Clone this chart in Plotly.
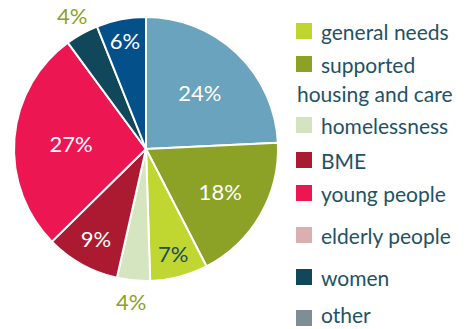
import math
import plotly.graph_objects as go

# Pie data (clockwise from 12 o'clock)
slice_names = ["s24", "s18", "s7", "s4a", "s9", "s27", "s4b", "s6"]
slice_values = [24, 18, 7, 4, 9, 27, 4, 6]
slice_colors = ["#69a3bd", "#8ba227", "#c0d631", "#d5e5bf", "#ab1a30", "#ec1752", "#11475a", "#03508b"]
slice_text_colors = ["white", "white", "#1a4a5c", "#8ba227", "white", "white", "#8ba227", "white"]
slice_outside = [False, False, False, True, False, False, True, False]

# Legend data
legend_labels = ["general needs", "supported<br>housing and care", "homelessness", "BME",
                 "young people", "elderly people", "women", "other"]
legend_colors = ["#bfd630", "#8ba226", "#d5e4c0", "#aa1a31", "#ec1651", "#d9afb1", "#11475a", "#7f8d96"]

W, H = 471, 329
legend_y_px = [31, 64, 125, 160, 193, 235, 277, 318]
text_color = "#1f5266"
FONT = "Lato"
PIE_FONT = 22

# pie box in pixels
px0, px1, py0, py1 = 14, 278, 17, 281
cx, cy = (px0 + px1) / 2, (py0 + py1) / 2
R = (px1 - px0) / 2

inside_text = ["" if o else f"{v}%" for v, o in zip(slice_values, slice_outside)]

fig = go.Figure()
fig.add_trace(go.Pie(
    labels=slice_names,
    values=slice_values,
    text=inside_text,
    textinfo="text",
    sort=False,
    direction="clockwise",
    rotation=0,
    marker=dict(colors=slice_colors, line=dict(color="white", width=2)),
    textposition="inside",
    insidetextorientation="horizontal",
    textfont=dict(family=FONT, size=PIE_FONT, color=slice_text_colors),
    showlegend=False,
    hoverinfo="none",
    domain=dict(x=[px0 / W, px1 / W], y=[1 - py1 / H, 1 - py0 / H]),
))

annotations = []
# outside labels placed at slice mid-angle
total = sum(slice_values)
cum = 0
for v, o, c in zip(slice_values, slice_outside, slice_text_colors):
    mid = (cum + v / 2) / total * 2 * math.pi
    cum += v
    if not o:
        continue
    rl = R * 1.16
    x = cx + rl * math.sin(mid)
    y = cy - rl * math.cos(mid)
    annotations.append(dict(text=f"{v}%", xref="paper", yref="paper",
                            x=x / W, y=1 - y / H, xanchor="center", yanchor="middle",
                            showarrow=False,
                            font=dict(family=FONT, size=PIE_FONT, color=c)))

shapes = []
sq = 16
x0 = 296
LFONT = 21
for lab, col, yc in zip(legend_labels, legend_colors, legend_y_px):
    shapes.append(dict(type="rect", xref="paper", yref="paper",
                       x0=x0 / W, x1=(x0 + sq) / W,
                       y0=1 - (yc + sq / 2) / H, y1=1 - (yc - sq / 2) / H,
                       fillcolor=col, line=dict(width=0)))
    parts = lab.split("<br>")
    if yc + LFONT * 0.62 > H:
        ty, yanch = 0, "bottom"
    else:
        ty, yanch = 1 - yc / H, "middle"
    annotations.append(dict(text=parts[0], xref="paper", yref="paper",
                            x=(x0 + sq + 7) / W, y=ty,
                            xanchor="left", yanchor=yanch, showarrow=False,
                            font=dict(family=FONT, size=LFONT, color=text_color)))
    if len(parts) > 1:
        annotations.append(dict(text=parts[1], xref="paper", yref="paper",
                                x=(x0 - 1) / W, y=1 - (yc + 29) / H,
                                xanchor="left", yanchor="middle", showarrow=False,
                                font=dict(family=FONT, size=LFONT, color=text_color)))

fig.update_layout(
    width=W, height=H,
    margin=dict(l=0, r=0, t=0, b=0),
    paper_bgcolor="white", plot_bgcolor="white",
    shapes=shapes, annotations=annotations,
    uniformtext=dict(minsize=PIE_FONT, mode="show"),
)
fig.write_html("out.html")
